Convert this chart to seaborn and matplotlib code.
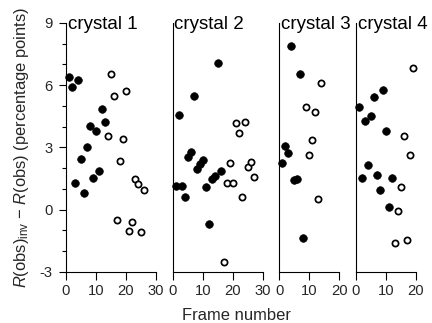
import matplotlib
matplotlib.use("Agg")
import matplotlib.pyplot as plt
from matplotlib.ticker import MultipleLocator, FixedLocator
import seaborn as sns
import pandas as pd

# ---- data ----
crystal_names = ["crystal 1", "crystal 2", "crystal 3", "crystal 4"]
x_max = [30, 30, 20, 20]
x_ticks = [[0, 10, 20, 30], [0, 10, 20, 30], [0, 10, 20], [0, 10, 20]]
y_ticks = [-3, 0, 3, 6, 9]

c1_filled_frames = [1, 2, 3, 4, 5, 6, 7, 8, 9, 10, 11, 12, 13]
c1_filled_values = [6.4, 5.93, 1.3, 6.25, 2.45, 0.78, 3.03, 4.02, 1.51, 3.8, 1.88, 4.84, 4.2]
c1_open_frames = [14, 15, 16, 17, 18, 19, 20, 21, 22, 23, 24, 25, 26]
c1_open_values = [3.54, 6.55, 5.5, -0.51, 2.32, 3.41, 5.73, -1.02, -0.6, 1.47, 1.21, -1.09, 0.94]

c2_filled_frames = [1, 2, 3, 4, 5, 6, 7, 8, 9, 10, 11, 12, 13, 14, 15, 16]
c2_filled_values = [1.12, 4.55, 1.12, 0.62, 2.55, 2.79, 5.48, 1.96, 2.18, 2.39, 1.07, -0.71, 1.46, 1.6, 7.06, 1.88]
c2_open_frames = [17, 18, 19, 20, 21, 22, 23, 24, 25, 26, 27]
c2_open_values = [-2.53, 1.26, 2.26, 1.27, 4.16, 3.68, 0.59, 4.2, 2.07, 2.31, 1.55]

c3_filled_frames = [1, 2, 3, 4, 5, 6, 7, 8]
c3_filled_values = [2.23, 3.08, 2.74, 7.9, 1.42, 1.46, 6.52, -1.36]
c3_open_frames = [9, 10, 11, 12, 13, 14]
c3_open_values = [4.96, 2.63, 3.35, 4.72, 0.51, 6.12]

c4_filled_frames = [1, 2, 3, 4, 5, 6, 7, 8, 9, 10, 11, 12]
c4_filled_values = [4.93, 1.54, 4.26, 2.13, 4.53, 5.43, 1.65, 0.93, 5.77, 3.79, 0.1, 1.51]
c4_open_frames = [13, 14, 15, 16, 17, 18, 19]
c4_open_values = [-1.6, -0.06, 1.07, 3.55, -1.47, 2.65, 6.81]

filled = [(c1_filled_frames, c1_filled_values), (c2_filled_frames, c2_filled_values),
          (c3_filled_frames, c3_filled_values), (c4_filled_frames, c4_filled_values)]
opened = [(c1_open_frames, c1_open_values), (c2_open_frames, c2_open_values),
          (c3_open_frames, c3_open_values), (c4_open_frames, c4_open_values)]

rows = []
for name, (ff, fv), (of, ov) in zip(crystal_names, filled, opened):
    rows += [dict(crystal=name, frame=f, value=v, kind="filled") for f, v in zip(ff, fv)]
    rows += [dict(crystal=name, frame=f, value=v, kind="open") for f, v in zip(of, ov)]
df = pd.DataFrame(rows)

# ---- style ----
sns.set_theme(style="ticks")
plt.rcParams["font.family"] = ["Liberation Sans", "DejaVu Sans"]
plt.rcParams["mathtext.fontset"] = "custom"
plt.rcParams["mathtext.rm"] = "Liberation Sans"
plt.rcParams["mathtext.it"] = "Liberation Sans:italic"
plt.rcParams["mathtext.bf"] = "Liberation Sans:bold"
plt.rcParams["axes.unicode_minus"] = False

W, H = 432, 323
fig = plt.figure(figsize=(W / 100, H / 100), dpi=100)

# panel pixel layout
lefts = [66, 172.7, 279.3, 356]
bottom_px, top_px = 271.7, 23

for i, name in enumerate(crystal_names):
    wpx = x_max[i] * 3.0
    ax = fig.add_axes([lefts[i] / W, (H - bottom_px) / H, wpx / W, (bottom_px - top_px) / H])
    sub = df[df.crystal == name]
    sns.scatterplot(data=sub[sub.kind == "filled"], x="frame", y="value", ax=ax,
                    color="black", edgecolor="black", linewidth=0.5, s=30,
                    clip_on=False, zorder=3, legend=False)
    sns.scatterplot(data=sub[sub.kind == "open"], x="frame", y="value", ax=ax,
                    facecolor="white", edgecolor="black", linewidth=1.25, s=20,
                    clip_on=False, zorder=3, legend=False)
    ax.set_xlim(0, x_max[i])
    ax.set_ylim(-3, 9)
    ax.set_xlabel("")
    ax.set_ylabel("")
    for sp in ["top", "right"]:
        ax.spines[sp].set_visible(False)
    for sp in ["left", "bottom"]:
        ax.spines[sp].set_linewidth(0.8)
        ax.spines[sp].set_color("black")
    ax.xaxis.set_major_locator(FixedLocator(x_ticks[i]))
    ax.set_xticklabels([str(t) for t in x_ticks[i]])
    ax.tick_params(axis="x", direction="out", length=5.5, width=0.8, pad=3,
                   labelsize=10.6, color="black")
    if i == 0:
        ax.yaxis.set_major_locator(FixedLocator(y_ticks))
        ax.set_yticklabels([str(t) for t in y_ticks])
        ax.yaxis.set_minor_locator(MultipleLocator(1))
        ax.tick_params(axis="y", which="major", direction="out", length=5, width=0.8,
                       pad=4.5, labelsize=10.6, color="black")
        ax.tick_params(axis="y", which="minor", direction="out", length=3, width=0.8,
                       color="black")
    else:
        ax.tick_params(axis="y", which="both", left=False, labelleft=False)
    ax.patch.set_alpha(0)
    ax.annotate(name, xy=(0, 1), xycoords="axes fraction", xytext=(1.2, -4.5),
                textcoords="offset points", ha="left", va="baseline",
                fontsize=13.5, color="black", zorder=5)

fig.text(236 / W, 1 - 316 / H, "Frame number", ha="center", va="center", fontsize=11.9)
fig.text(22 / W, 1 - 148 / H,
         r"$\mathit{R}$(obs)$_{\mathrm{inv}}$ − $\mathit{R}$(obs) (percentage points)",
         rotation=90, ha="center", va="center", fontsize=11.9)

fig.savefig("out.png", dpi=100)
